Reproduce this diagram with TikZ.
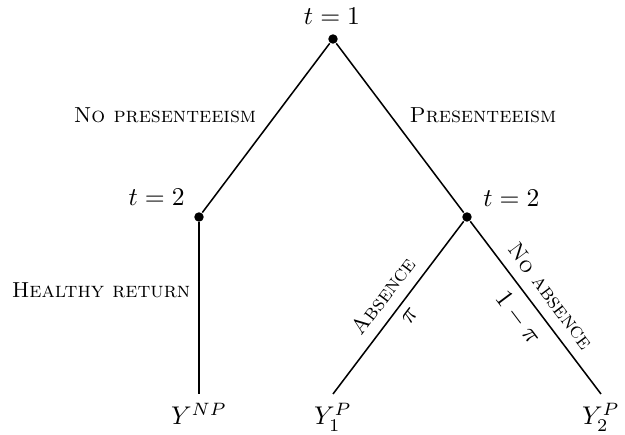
\documentclass[tikz,border=0pt]{standalone}
\usetikzlibrary{positioning}
\begin{document}
\begin{tikzpicture}[x=0.01373cm, y=-0.01373cm, line width=0.6pt,
  dot/.style={circle, fill, inner sep=0pt, minimum size=1.3mm},
  lbl/.style={font=\fontsize{8.5}{10}\selectfont\scshape, inner sep=0pt},
  leaf/.style={anchor=north}]
\useasboundingbox (0,0) rectangle (625,435);
% decision points
\node[dot] (root) at (333,39) {};
\node[dot] (nl) at (199,217) {};
\node[dot] (nr) at (467,217) {};
\node (t1) at (332,16) {$t=1$};
\node[anchor=east] (t2l) at (194,197) {$t=2$};
\node[anchor=west] (t2r) at (474,198) {$t=2$};
% outcomes
\node[leaf] (ynp) at (199,394) {$Y^{NP}$};
\node[leaf] (y1) at (333,394) {$Y_1^P$};
\node[leaf] (y2) at (601,394) {$Y_2^P$};
% branches
\draw (root) -- (nl);
\draw (root) -- (nr);
\draw (nl) -- (ynp.north);
\draw (nr) -- (y1.north);
\draw (nr) -- (y2.north);
% branch labels
\node[lbl] (lnp) at (165,115) {No presenteeism};
\node[lbl] (lp) at (483,115) {Presenteeism};
\node[lbl] (lhr) at (101,290) {Healthy return};
\node[lbl, rotate=53] (lab) at (383,296) {Absence};
\node[lbl, rotate=-53] (lna) at (551,296) {No absence};
\node[rotate=53] (pi) at (410,316) {$\pi$};
\node[rotate=-53] (ompi) at (518,318) {$1-\pi$};
\end{tikzpicture}
\end{document}
